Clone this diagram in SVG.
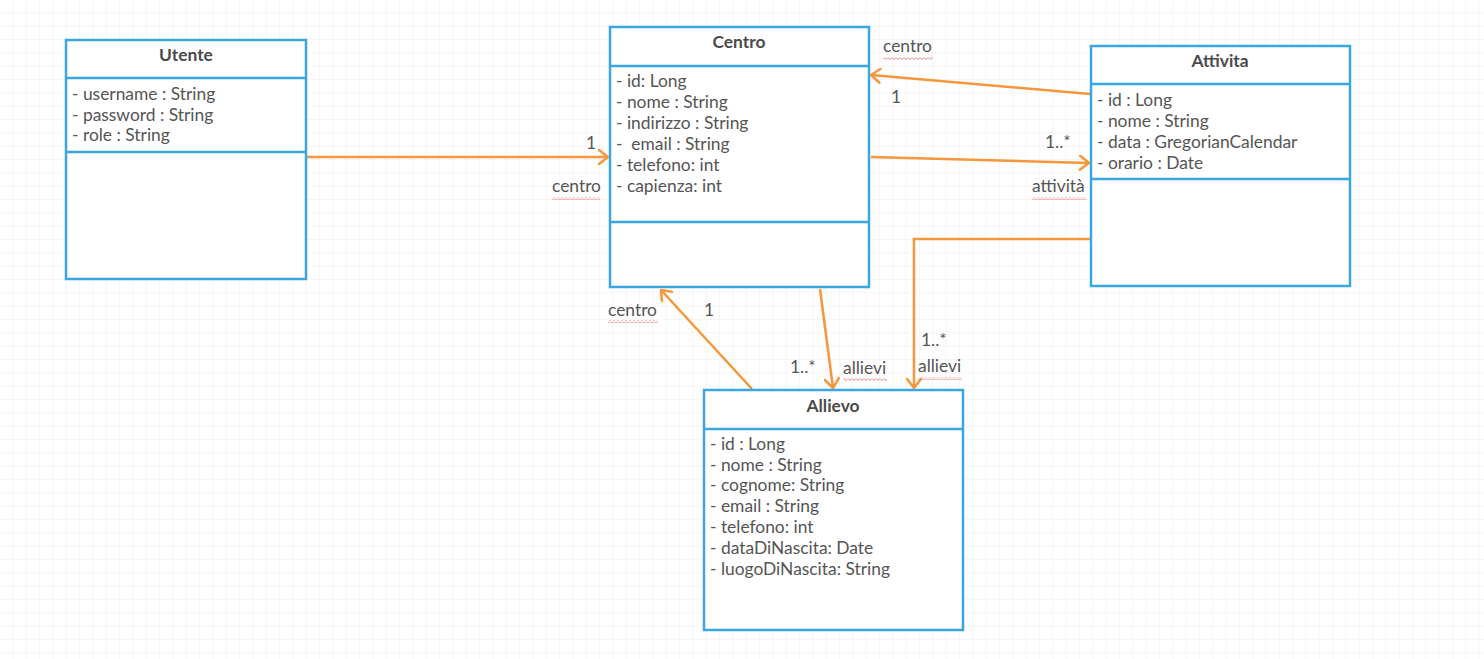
<svg xmlns="http://www.w3.org/2000/svg" width="1484" height="659" viewBox="0 0 1484 659">
<defs>
<pattern id="grid" width="13.33" height="13.33" patternUnits="userSpaceOnUse">
<path d="M13.33,0 V13.33 M0,13.33 H13.33" fill="none" stroke="#ececec" stroke-width="1"/>
</pattern>
<pattern id="wavy" x="0" y="0" width="4" height="3" patternUnits="userSpaceOnUse">
<path d="M0,0.5 L2,2.5 L4,0.5" fill="none" stroke="#f07a7a" stroke-width="1"/>
</pattern>
<marker id="arr" markerWidth="14" markerHeight="16" refX="11" refY="8" orient="auto" markerUnits="userSpaceOnUse">
<path d="M2,1 L11,8 L2,15" fill="none" stroke="#f7963a" stroke-width="2.5" stroke-linecap="round" stroke-linejoin="round"/>
</marker>
</defs>
<style>
.box{fill:#fff;stroke:#3aa6e2;stroke-width:2.5}
.div{stroke:#3aa6e2;stroke-width:2.5}
.t{font-family:Lato,"Liberation Sans",sans-serif;font-size:17.4px;fill:#555}
.b{font-weight:bold;text-anchor:middle;fill:#4a4a4a}
.c{fill:none;stroke:#f7963a;stroke-width:2.5;marker-end:url(#arr)}
.lbl{font-family:Lato,"Liberation Sans",sans-serif;font-size:17.4px;fill:#555}
</style>
<rect width="1484" height="659" fill="#fff"/>
<rect width="1484" height="659" fill="url(#grid)"/>

<g id="connectors">
<path class="c" d="M307,157 L608,157"/>
<path class="c" d="M1090,94 L871,75"/>
<path class="c" d="M871,157 L1089,163"/>
<path class="c" d="M1090,239 L914,239 L914,388"/>
<path class="c" d="M820,289 L833,388"/>
<path class="c" d="M752,389 L661,290"/>
<text class="lbl" x="586" y="149">1</text>
<text class="lbl" x="552" y="192">centro</text>
<rect x="552" y="197" width="48" height="3" fill="url(#wavy)"/>
<text class="lbl" x="883" y="52">centro</text>
<rect x="883" y="57" width="50" height="3" fill="url(#wavy)"/>
<text class="lbl" x="891" y="103">1</text>
<text class="lbl" x="1045" y="148">1..*</text>
<text class="lbl" x="1032" y="192">attività</text>
<rect x="1032" y="197" width="54" height="3" fill="url(#wavy)"/>
<text class="lbl" x="921" y="346">1..*</text>
<text class="lbl" x="918" y="372">allievi</text>
<rect x="918" y="377" width="44" height="3" fill="url(#wavy)"/>
<text class="lbl" x="790" y="373">1..*</text>
<text class="lbl" x="843" y="374">allievi</text>
<rect x="843" y="378" width="44" height="3" fill="url(#wavy)"/>
<text class="lbl" x="608" y="316">centro</text>
<rect x="608" y="320" width="50" height="3" fill="url(#wavy)"/>
<text class="lbl" x="704" y="316">1</text>
</g>

<g id="Utente">
<rect class="box" x="66" y="40" width="240" height="239"/>
<line class="div" x1="66" y1="78" x2="306" y2="78"/>
<line class="div" x1="66" y1="152" x2="306" y2="152"/>
<text class="t b" x="186" y="61">Utente</text>
<text class="t" x="72" y="100">- username : String</text>
<text class="t" x="72" y="121">- password : String</text>
<text class="t" x="72" y="141">- role : String</text>
</g>

<g id="Centro">
<rect class="box" x="610" y="27" width="259" height="260"/>
<line class="div" x1="610" y1="66" x2="869" y2="66"/>
<line class="div" x1="610" y1="222" x2="869" y2="222"/>
<text class="t b" x="739" y="48">Centro</text>
<text class="t" x="616" y="87">- id: Long</text>
<text class="t" x="616" y="108">- nome : String</text>
<text class="t" x="616" y="129">- indirizzo : String</text>
<text class="t" x="616" y="150" xml:space="preserve">-  email : String</text>
<text class="t" x="616" y="171">- telefono: int</text>
<text class="t" x="616" y="192">- capienza: int</text>
</g>

<g id="Attivita">
<rect class="box" x="1091" y="46" width="259" height="240"/>
<line class="div" x1="1091" y1="84" x2="1350" y2="84"/>
<line class="div" x1="1091" y1="179" x2="1350" y2="179"/>
<text class="t b" x="1220" y="67">Attivita</text>
<text class="t" x="1097" y="106">- id : Long</text>
<text class="t" x="1097" y="127">- nome : String</text>
<text class="t" x="1097" y="148">- data : GregorianCalendar</text>
<text class="t" x="1097" y="169">- orario : Date</text>
</g>

<g id="Allievo">
<rect class="box" x="704" y="390" width="259" height="240"/>
<line class="div" x1="704" y1="429" x2="963" y2="429"/>
<text class="t b" x="833" y="412">Allievo</text>
<text class="t" x="710" y="450">- id : Long</text>
<text class="t" x="710" y="471">- nome : String</text>
<text class="t" x="710" y="491">- cognome: String</text>
<text class="t" x="710" y="512">- email : String</text>
<text class="t" x="710" y="533">- telefono: int</text>
<text class="t" x="710" y="554">- dataDiNascita: Date</text>
<text class="t" x="710" y="575">- luogoDiNascita: String</text>
</g>
</svg>
